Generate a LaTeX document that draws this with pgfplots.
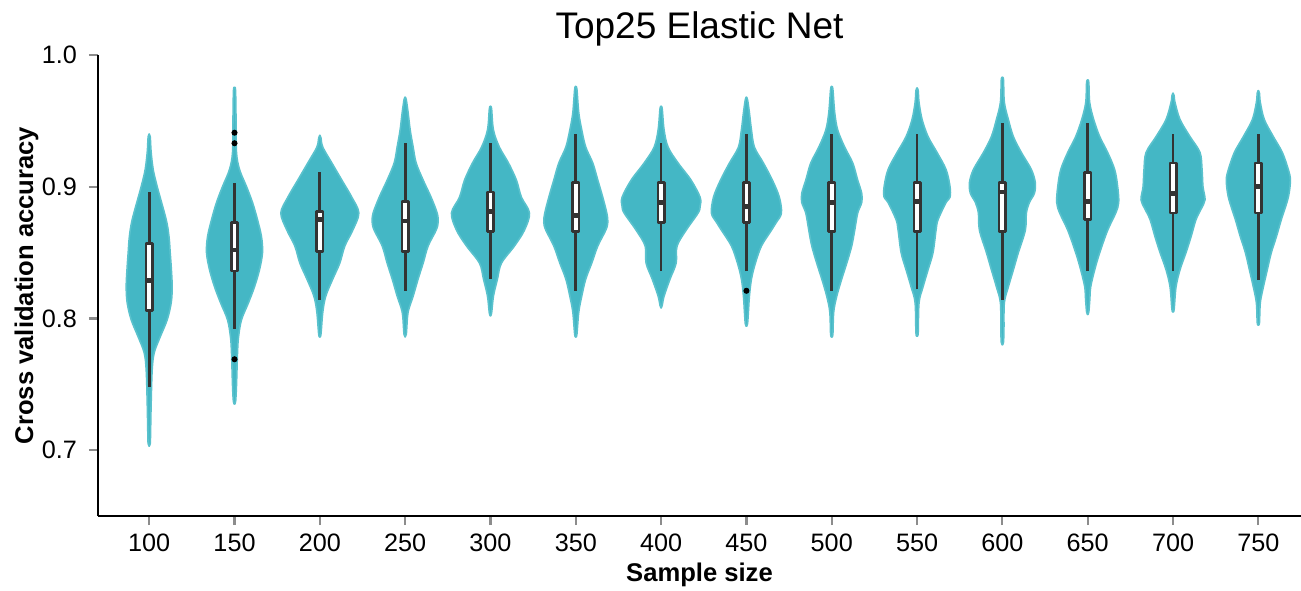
\documentclass[border=0pt]{standalone}
\usepackage{pgfplots}
\pgfplotsset{compat=1.18}
\usepackage{pgfplotstable}
\usepgfplotslibrary{fillbetween}
\usepackage{fontspec}
\setmainfont{Liberation Sans}

\definecolor{violinfill}{RGB}{68,183,197}
\definecolor{violinline}{RGB}{90,194,205}
\definecolor{boxgray}{RGB}{51,51,51}
\definecolor{tickgray}{RGB}{140,140,140}

% density outlines: y value and half-width (in category units)
\pgfplotstableread{
y w
0.703 0
0.705 0.012
0.710 0.015
0.736 0.023
0.761 0.035
0.774 0.059
0.786 0.129
0.799 0.211
0.812 0.258
0.824 0.269
0.837 0.260
0.850 0.246
0.862 0.232
0.875 0.199
0.900 0.094
0.913 0.047
0.926 0.023
0.935 0.015
0.938 0.012
0.940 0
}\vA
\pgfplotstableread{
y w
0.735 0
0.737 0.013
0.749 0.023
0.774 0.035
0.786 0.047
0.799 0.082
0.812 0.164
0.824 0.234
0.837 0.293
0.850 0.328
0.862 0.316
0.875 0.269
0.888 0.211
0.900 0.141
0.913 0.059
0.926 0.023
0.950 0.018
0.973 0.012
0.975 0
}\vB
\pgfplotstableread{
y w
0.786 0
0.788 0.013
0.805 0.035
0.817 0.070
0.830 0.152
0.842 0.234
0.855 0.293
0.867 0.386
0.880 0.457
0.892 0.375
0.905 0.258
0.918 0.141
0.930 0.035
0.937 0.013
0.939 0
}\vC
\pgfplotstableread{
y w
0.786 0
0.788 0.013
0.792 0.018
0.805 0.035
0.817 0.094
0.830 0.152
0.842 0.211
0.855 0.269
0.867 0.363
0.873 0.386
0.880 0.375
0.892 0.304
0.905 0.211
0.918 0.129
0.930 0.094
0.943 0.059
0.956 0.035
0.966 0.013
0.968 0
}\vD
\pgfplotstableread{
y w
0.802 0
0.804 0.013
0.817 0.035
0.830 0.082
0.842 0.129
0.855 0.281
0.867 0.398
0.880 0.457
0.892 0.363
0.905 0.304
0.918 0.211
0.930 0.105
0.943 0.035
0.959 0.013
0.961 0
}\vE
\pgfplotstableread{
y w
0.786 0
0.788 0.013
0.805 0.035
0.817 0.070
0.830 0.117
0.842 0.187
0.855 0.258
0.867 0.351
0.873 0.375
0.880 0.363
0.892 0.316
0.905 0.258
0.918 0.199
0.930 0.117
0.943 0.070
0.956 0.035
0.974 0.013
0.976 0
}\vF
\pgfplotstableread{
y w
0.808 0
0.810 0.013
0.817 0.035
0.830 0.105
0.842 0.176
0.855 0.187
0.867 0.293
0.880 0.433
0.885 0.457
0.892 0.457
0.905 0.351
0.918 0.199
0.930 0.082
0.943 0.035
0.959 0.013
0.961 0
}\vG
\pgfplotstableread{
y w
0.794 0
0.796 0.013
0.805 0.023
0.817 0.035
0.830 0.059
0.842 0.105
0.855 0.176
0.867 0.293
0.873 0.351
0.880 0.410
0.892 0.386
0.905 0.304
0.918 0.199
0.930 0.094
0.943 0.059
0.956 0.035
0.966 0.013
0.968 0
}\vH
\pgfplotstableread{
y w
0.786 0
0.788 0.013
0.805 0.023
0.817 0.059
0.830 0.117
0.842 0.176
0.855 0.234
0.867 0.269
0.880 0.304
0.888 0.351
0.895 0.351
0.905 0.304
0.918 0.246
0.930 0.152
0.943 0.070
0.956 0.035
0.974 0.013
0.976 0
}\vI
\pgfplotstableread{
y w
0.787 0
0.789 0.013
0.812 0.023
0.824 0.070
0.837 0.129
0.850 0.187
0.867 0.222
0.875 0.246
0.888 0.340
0.892 0.386
0.900 0.386
0.913 0.340
0.926 0.234
0.938 0.129
0.951 0.059
0.964 0.023
0.973 0.013
0.975 0
}\vJ
\pgfplotstableread{
y w
0.780 0
0.782 0.013
0.792 0.018
0.812 0.023
0.824 0.070
0.837 0.129
0.850 0.187
0.867 0.269
0.880 0.281
0.888 0.316
0.895 0.375
0.903 0.386
0.913 0.340
0.926 0.222
0.938 0.129
0.951 0.070
0.964 0.023
0.981 0.013
0.983 0
}\vK
\pgfplotstableread{
y w
0.803 0
0.805 0.013
0.815 0.025
0.824 0.035
0.837 0.082
0.850 0.141
0.867 0.234
0.880 0.328
0.888 0.363
0.900 0.351
0.913 0.316
0.926 0.234
0.938 0.141
0.951 0.070
0.964 0.023
0.979 0.013
0.981 0
}\vL
\pgfplotstableread{
y w
0.805 0
0.807 0.013
0.824 0.035
0.837 0.082
0.850 0.152
0.862 0.211
0.875 0.269
0.883 0.328
0.890 0.375
0.900 0.351
0.913 0.340
0.926 0.316
0.938 0.199
0.951 0.082
0.964 0.023
0.969 0.013
0.971 0
}\vM
\pgfplotstableread{
y w
0.795 0
0.797 0.013
0.812 0.023
0.824 0.059
0.837 0.105
0.850 0.152
0.862 0.211
0.875 0.269
0.892 0.351
0.905 0.375
0.913 0.351
0.926 0.281
0.938 0.176
0.951 0.070
0.964 0.023
0.971 0.013
0.973 0
}\vN

% rectangle outline: x offset sign, weight of Q1, weight of Q3
\pgfplotstableread{
dx a b
-1 1 0
1 1 0
1 0 1
-1 0 1
-1 1 0
1 1 0
}\boxshape

\pgfplotsset{
  violinedge/.style={smooth, tension=0.55, no marks, draw=violinline,
    line width=0.8pt, line cap=round, line join=round},
}

% one violin: right edge, left edge, filled region between them
\newcommand{\violin}[2]{%
  \addplot[violinedge, name path=R#1] table[x expr=#1+\thisrow{w}, y=y] {#2};
  \addplot[violinedge, name path=L#1] table[x expr=#1-\thisrow{w}, y=y] {#2};
  \addplot[fill=violinfill, draw=none] fill between[of=R#1 and L#1];
}
% one box: position, lower whisker, Q1, median, Q3, upper whisker
\newcommand{\innerbox}[6]{%
  \addplot[boxgray, no marks, line width=1.35pt] coordinates {(#1,#2) (#1,#6)};
  \addplot[draw=boxgray, fill=white, no marks, line width=1.3pt, line join=round]
    table[x expr=#1+0.0375*\thisrow{dx}, y expr=\thisrow{a}*#3+\thisrow{b}*#5] {\boxshape};
  \addplot[boxgray, no marks, line width=2.4pt]
    table[x expr=#1+0.0375*\thisrow{dx}, y expr=#4] {\boxshape};
}

\begin{document}
\begin{tikzpicture}
\begin{axis}[
  name=ax,
  scale only axis,
  width=601.5pt, height=230.5pt,
  xmin=-0.6, xmax=13.5,
  ymin=0.65, ymax=1.0,
  axis lines*=left,
  axis line style={black, line width=1.1pt},
  xtick={0,...,13},
  xticklabels={100,150,200,250,300,350,400,450,500,550,600,650,700,750},
  ytick={0.7,0.8,0.9,1.0},
  yticklabel style={xshift=-2.5pt, /pgf/number format/fixed,
    /pgf/number format/fixed zerofill, /pgf/number format/precision=1},
  xticklabel style={yshift=-1pt},
  tick align=outside,
  major tick length=4.5pt,
  tick style={tickgray, line width=1.1pt},
  tick label style={font=\fontsize{12.6}{14}\selectfont, text=black},
  every axis title shift=0pt,
  title={Top25 Elastic Net},
  title style={font=\fontsize{18.5}{21}\selectfont,
    at={([yshift=8pt]axis description cs:0.5,1)}, anchor=base},
  xlabel={Sample size},
  ylabel={Cross validation accuracy},
  every axis x label/.style={font=\bfseries\fontsize{12.8}{15}\selectfont,
    at={([yshift=-32.5pt]axis description cs:0.5,0)}, anchor=base},
  every axis y label/.style={font=\bfseries\fontsize{12.8}{15}\selectfont,
    at={([xshift=-35.7pt]axis description cs:0,0.5)}, rotate=90, anchor=center},
  clip=false,
  /pgf/number format/assume math mode=true,
]
\violin{0}{\vA}
\violin{1}{\vB}
\violin{2}{\vC}
\violin{3}{\vD}
\violin{4}{\vE}
\violin{5}{\vF}
\violin{6}{\vG}
\violin{7}{\vH}
\violin{8}{\vI}
\violin{9}{\vJ}
\violin{10}{\vK}
\violin{11}{\vL}
\violin{12}{\vM}
\violin{13}{\vN}

\innerbox{0}{0.748}{0.806}{0.829}{0.857}{0.896}
\innerbox{1}{0.792}{0.836}{0.852}{0.873}{0.903}
\innerbox{2}{0.814}{0.851}{0.875}{0.881}{0.911}
\innerbox{3}{0.821}{0.851}{0.874}{0.889}{0.933}
\innerbox{4}{0.830}{0.866}{0.881}{0.896}{0.933}
\innerbox{5}{0.821}{0.866}{0.878}{0.903}{0.940}
\innerbox{6}{0.836}{0.873}{0.888}{0.903}{0.933}
\innerbox{7}{0.836}{0.873}{0.885}{0.903}{0.940}
\innerbox{8}{0.821}{0.866}{0.888}{0.903}{0.940}
\innerbox{9}{0.822}{0.866}{0.889}{0.903}{0.940}
\innerbox{10}{0.814}{0.866}{0.896}{0.903}{0.948}
\innerbox{11}{0.836}{0.875}{0.889}{0.911}{0.948}
\innerbox{12}{0.836}{0.880}{0.895}{0.918}{0.940}
\innerbox{13}{0.829}{0.880}{0.900}{0.918}{0.940}

% points beyond the whiskers
\addplot[only marks, mark=*, mark size=1.3pt, black]
  coordinates {(1,0.941) (1,0.933) (1,0.769) (7,0.821)};
\end{axis}
\pgfresetboundingbox
\path[use as bounding box] ([xshift=-49pt,yshift=-37pt]ax.south west)
  rectangle ([yshift=27.5pt]ax.north east);
\end{tikzpicture}
\end{document}
